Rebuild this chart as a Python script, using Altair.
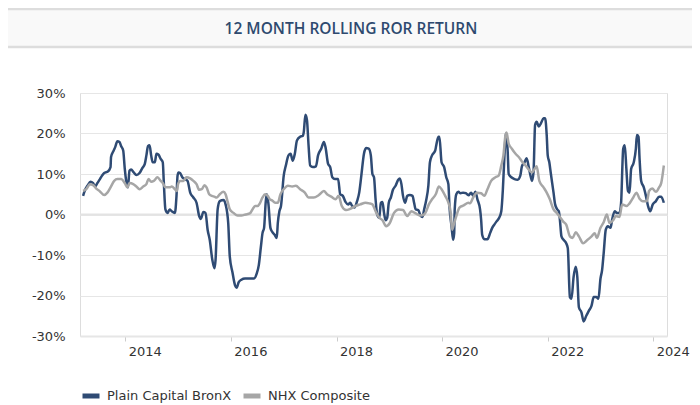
import altair as alt
import pandas as pd

TITLE = "12 MONTH ROLLING ROR RETURN"
SERIES = ["Plain Capital BronX", "NHX Composite"]
COLORS = ["#2f4b74", "#a6a6a6"]

# decimal-year positions and values (%)
bronx_years = [
    2013.20, 2013.23, 2013.29, 2013.34, 2013.39, 2013.43, 2013.47, 2013.52, 2013.56, 2013.60,
    2013.67, 2013.72, 2013.73, 2013.78, 2013.81, 2013.85, 2013.89, 2013.92, 2013.96, 2013.99,
    2014.03, 2014.05, 2014.08, 2014.11, 2014.16, 2014.21, 2014.27, 2014.32, 2014.37, 2014.40,
    2014.43, 2014.46, 2014.49, 2014.52, 2014.56, 2014.59, 2014.63, 2014.67, 2014.71, 2014.73,
    2014.76, 2014.80, 2014.84, 2014.88, 2014.94, 2014.97, 2014.99, 2015.01, 2015.04, 2015.08,
    2015.13, 2015.18, 2015.23, 2015.29, 2015.35, 2015.40, 2015.43, 2015.48, 2015.52, 2015.56,
    2015.60, 2015.65, 2015.69, 2015.71, 2015.75, 2015.79, 2015.86, 2015.90, 2015.95, 2015.98,
    2016.03, 2016.08, 2016.11, 2016.15, 2016.20, 2016.27, 2016.36, 2016.44, 2016.49, 2016.53,
    2016.57, 2016.60, 2016.63, 2016.66, 2016.68, 2016.71, 2016.75, 2016.78, 2016.83, 2016.87,
    2016.89, 2016.92, 2016.95, 2017.00, 2017.04, 2017.09, 2017.13, 2017.17, 2017.21, 2017.25,
    2017.31, 2017.36, 2017.38, 2017.41, 2017.44, 2017.47, 2017.50, 2017.55, 2017.61, 2017.65,
    2017.71, 2017.76, 2017.79, 2017.84, 2017.88, 2017.92, 2017.97, 2018.03, 2018.07, 2018.12,
    2018.17, 2018.22, 2018.26, 2018.29, 2018.34, 2018.39, 2018.43, 2018.47, 2018.52, 2018.56,
    2018.61, 2018.65, 2018.68, 2018.71, 2018.74, 2018.77, 2018.81, 2018.84, 2018.87, 2018.90,
    2018.93, 2018.96, 2018.99, 2019.03, 2019.07, 2019.12, 2019.17, 2019.20, 2019.23, 2019.26,
    2019.30, 2019.34, 2019.39, 2019.44, 2019.47, 2019.50, 2019.55, 2019.59, 2019.63, 2019.66,
    2019.70, 2019.74, 2019.77, 2019.81, 2019.87, 2019.89, 2019.93, 2019.95, 2019.99, 2020.04,
    2020.08, 2020.12, 2020.14, 2020.18, 2020.21, 2020.23, 2020.24, 2020.27, 2020.31, 2020.35,
    2020.40, 2020.45, 2020.50, 2020.55, 2020.59, 2020.63, 2020.67, 2020.72, 2020.74, 2020.76,
    2020.80, 2020.86, 2020.91, 2020.95, 2020.99, 2021.03, 2021.08, 2021.12, 2021.15, 2021.18,
    2021.21, 2021.24, 2021.26, 2021.31, 2021.37, 2021.43, 2021.48, 2021.51, 2021.56, 2021.60,
    2021.64, 2021.68, 2021.70, 2021.73, 2021.76, 2021.79, 2021.83, 2021.87, 2021.92, 2021.95,
    2021.98, 2022.00, 2022.03, 2022.06, 2022.11, 2022.14, 2022.18, 2022.21, 2022.23, 2022.26,
    2022.30, 2022.35, 2022.38, 2022.42, 2022.45, 2022.49, 2022.53, 2022.56, 2022.59, 2022.64,
    2022.68, 2022.73, 2022.78, 2022.83, 2022.87, 2022.92, 2022.96, 2023.00, 2023.03, 2023.06,
    2023.10, 2023.14, 2023.19, 2023.22, 2023.27, 2023.31, 2023.36, 2023.39, 2023.43, 2023.46,
    2023.49, 2023.52, 2023.55, 2023.58, 2023.63, 2023.67, 2023.69, 2023.72, 2023.74, 2023.77,
    2023.82, 2023.86, 2023.90, 2023.94, 2023.99, 2024.05, 2024.11, 2024.15, 2024.20,
]
bronx_values = [
    4.6, 5.8, 7.25, 8.1, 7.75, 6.9, 7.75, 8.75, 9.6, 10.25,
    10.6, 11.7, 14.2, 15.8, 16.7, 18.1, 17.9, 16.9, 15.8, 11.25,
    7.25, 6.7, 10.8, 11.1, 10.4, 9.75, 10.25, 11.4, 12.5, 14.6,
    16.9, 17.1, 14.6, 12.9, 12.9, 15.0, 14.75, 13.75, 12.9, 7.9,
    1.25, 0.4, 1.25, 0.8, 0.4, 4.6, 9.6, 10.4, 10.2, 9.2,
    8.75, 8.3, 5.4, 4.2, 2.9, -0.4, -1.1, 0.6, 0.4, -3.75,
    -6.25, -11.25, -13.3, -11.25, 1.25, 3.3, 3.6, 2.5, -2.1, -10.4,
    -14.2, -17.5, -18.1, -16.7, -16.1, -15.8, -15.8, -15.8, -14.6, -12.5,
    -7.9, -4.6, -3.3, 2.9, 5.0, 2.9, -3.3, -4.2, -5.0, -5.8,
    -2.1, 0.8, 2.1, 9.6, 12.1, 14.6, 15.0, 13.3, 15.0, 18.3,
    19.2, 19.4, 20.4, 24.6, 23.3, 17.1, 12.1, 11.7, 11.9, 14.6,
    16.25, 17.9, 16.7, 12.5, 11.7, 9.2, 8.75, 8.75, 5.0, 4.6,
    3.1, 2.5, 2.9, 2.25, 1.7, 3.3, 5.4, 9.6, 15.0, 16.4,
    16.25, 14.6, 10.0, 9.2, 3.75, 0.0, -0.8, 2.9, 3.1, 0.4,
    -1.4, -0.8, 2.9, 4.2, 6.1, 7.1, 8.6, 8.9, 7.5, 4.6,
    2.9, 4.6, 4.8, 4.6, 2.9, 1.25, 1.1, -0.25, -0.6, 1.25,
    3.6, 7.1, 12.9, 14.6, 15.8, 17.1, 19.2, 19.2, 12.9, 11.7,
    9.2, 7.5, 2.1, -2.9, -6.25, -4.6, 1.25, 5.0, 5.6, 5.25,
    5.4, 5.25, 4.75, 5.4, 4.6, 5.6, 3.75, 1.25, -1.25, -5.0,
    -6.1, -6.1, -4.6, -3.3, -2.5, -1.7, -0.8, 0.8, 6.25, 14.6,
    20.0, 15.8, 10.0, 9.2, 8.75, 8.6, 9.6, 11.9, 12.9, 13.9,
    11.7, 9.2, 8.3, 10.4, 22.1, 22.9, 21.7, 22.5, 23.75, 23.75,
    19.6, 14.6, 12.9, 10.0, 5.4, 2.5, 1.25, 0.8, -1.25, -5.4,
    -6.25, -7.1, -8.3, -20.4, -20.8, -15.4, -12.9, -15.4, -22.9, -24.2,
    -26.4, -25.0, -23.75, -22.5, -20.4, -20.4, -20.8, -15.8, -13.75, -9.6,
    -3.75, -2.9, -3.3, -1.25, 0.8, 0.4, 0.4, 2.9, 16.25, 17.1,
    11.25, 5.8, 5.4, 11.25, 12.9, 16.25, 19.6, 19.2, 13.75, 8.3,
    6.7, 4.6, 2.1, 0.8, 2.5, 3.3, 4.4, 4.4, 2.9,
]

nhx_years = [
    2013.20, 2013.26, 2013.33, 2013.39, 2013.45, 2013.52, 2013.60, 2013.66, 2013.72, 2013.79,
    2013.85, 2013.92, 2013.99, 2014.04, 2014.08, 2014.15, 2014.21, 2014.27, 2014.34, 2014.40,
    2014.44, 2014.49, 2014.54, 2014.61, 2014.67, 2014.71, 2014.76, 2014.84, 2014.88, 2014.94,
    2014.98, 2015.00, 2015.04, 2015.10, 2015.16, 2015.23, 2015.29, 2015.35, 2015.40, 2015.45,
    2015.50, 2015.54, 2015.59, 2015.64, 2015.69, 2015.73, 2015.79, 2015.86, 2015.90, 2015.94,
    2015.98, 2016.05, 2016.13, 2016.20, 2016.28, 2016.36, 2016.41, 2016.46, 2016.51, 2016.55,
    2016.60, 2016.65, 2016.70, 2016.74, 2016.78, 2016.84, 2016.89, 2016.94, 2017.00, 2017.08,
    2017.16, 2017.23, 2017.31, 2017.40, 2017.47, 2017.57, 2017.66, 2017.76, 2017.82, 2017.90,
    2017.98, 2018.04, 2018.10, 2018.18, 2018.26, 2018.36, 2018.45, 2018.55, 2018.62, 2018.68,
    2018.74, 2018.81, 2018.87, 2018.94, 2019.01, 2019.09, 2019.18, 2019.26, 2019.34, 2019.42,
    2019.50, 2019.58, 2019.66, 2019.70, 2019.75, 2019.81, 2019.88, 2019.94, 2019.99, 2020.06,
    2020.12, 2020.16, 2020.19, 2020.23, 2020.27, 2020.33, 2020.41, 2020.50, 2020.53, 2020.59,
    2020.66, 2020.74, 2020.80, 2020.86, 2020.93, 2021.01, 2021.07, 2021.12, 2021.16, 2021.20,
    2021.22, 2021.26, 2021.32, 2021.39, 2021.45, 2021.51, 2021.58, 2021.64, 2021.70, 2021.75,
    2021.79, 2021.84, 2021.92, 2021.98, 2022.04, 2022.11, 2022.17, 2022.23, 2022.29, 2022.35,
    2022.42, 2022.47, 2022.53, 2022.59, 2022.67, 2022.74, 2022.83, 2022.89, 2022.93, 2023.00,
    2023.06, 2023.12, 2023.17, 2023.24, 2023.29, 2023.36, 2023.41, 2023.49, 2023.55, 2023.62,
    2023.68, 2023.74, 2023.80, 2023.88, 2023.92, 2023.98, 2024.05, 2024.11, 2024.15, 2024.20,
]
nhx_values = [
    5.8, 6.25, 7.5, 7.25, 6.4, 5.7, 4.8, 5.4, 6.7, 8.3,
    8.75, 8.75, 7.75, 6.7, 7.75, 7.5, 6.9, 6.25, 6.9, 7.5,
    8.75, 8.1, 8.3, 9.2, 8.3, 7.75, 6.7, 6.7, 6.9, 6.25,
    5.8, 7.5, 8.3, 8.3, 9.2, 8.9, 8.3, 7.5, 6.1, 6.25,
    7.25, 6.7, 5.0, 4.6, 4.4, 4.2, 5.0, 5.6, 5.0, 3.1,
    1.25, 0.4, -0.25, -0.25, 0.0, 0.25, 1.25, 2.1, 2.1, 2.75,
    4.2, 5.0, 4.6, 3.75, 3.5, 2.9, 2.9, 5.0, 6.25, 7.1,
    6.9, 7.1, 6.25, 5.4, 4.2, 4.2, 4.75, 5.8, 5.0, 4.4,
    3.75, 4.6, 2.1, 1.1, 1.4, 2.1, 2.5, 2.9, 2.75, 2.5,
    0.8, -0.8, -1.4, -2.9, -2.1, 0.4, 1.25, 1.1, -0.4, 0.8,
    0.25, -0.25, 0.0, 0.8, 2.5, 3.75, 5.0, 6.9, 6.25, 4.6,
    2.9, 0.8, -3.75, -2.1, -0.4, 1.7, 2.25, 2.9, 2.75, 4.2,
    5.4, 5.25, 4.6, 6.25, 8.3, 9.2, 9.6, 12.1, 14.6, 19.6,
    20.25, 17.5, 16.25, 15.0, 14.2, 13.1, 12.1, 11.1, 10.4, 11.25,
    11.9, 8.3, 6.7, 5.4, 3.75, 1.25, 0.4, -0.6, -1.7, -2.5,
    -5.4, -5.8, -4.4, -5.4, -7.1, -6.4, -5.4, -4.6, -5.8, -3.3,
    -1.9, 0.0, -2.1, -1.4, -0.4, -0.6, 2.5, 2.1, 2.75, 4.2,
    5.4, 3.9, 3.3, 3.3, 5.8, 6.4, 5.6, 6.7, 7.75, 12.1,
]

Y_TICKS = [-30, -20, -10, 0, 10, 20, 30]
X_TICK_YEARS = [2014, 2016, 2018, 2020, 2022, 2024]


def to_ts(y):
    yr = int(y)
    return pd.Timestamp(yr, 1, 1) + pd.Timedelta(days=(y - yr) * 365.25)


def to_dt(y):
    t = to_ts(y)
    return alt.DateTime(year=t.year, month=t.month, date=t.day, hours=t.hour)


df = pd.concat([
    pd.DataFrame({"date": [to_ts(y).strftime("%Y-%m-%dT%H:%M:%S") for y in bronx_years],
                  "value": bronx_values, "series": SERIES[0]}),
    pd.DataFrame({"date": [to_ts(y).strftime("%Y-%m-%dT%H:%M:%S") for y in nhx_years],
                  "value": nhx_values, "series": SERIES[1]}),
], ignore_index=True)

W, H = 587, 243
PL, PT = 72, 85
TOTAL_W, TOTAL_H = 684, 397
FONT = "Verdana, DejaVu Sans"

x_enc = alt.X(
    "date:T",
    scale=alt.Scale(domain=[to_dt(2013.142), to_dt(2024.26)]),
    axis=alt.Axis(
        title=None, format="%Y", values=[alt.DateTime(year=y, month=1, date=1) for y in X_TICK_YEARS],
        grid=False, domain=True, domainColor="#e6e6e6", domainWidth=2,
        ticks=True, tickColor="#cccccc", tickSize=5, labelAlign="left", labelOffset=3,
        labelPadding=4, labelFontSize=13, labelColor="#333333", labelFont=FONT,
    ),
)
y_enc = alt.Y(
    "value:Q",
    scale=alt.Scale(domain=[-30, 30], nice=False),
    axis=alt.Axis(
        title=None, values=Y_TICKS, labelExpr="datum.value + '%'", grid=True, gridColor="#e6e6e6",
        gridWidth=1, domain=False, ticks=False, labelPadding=15, labelFontSize=13,
        labelColor="#333333", labelFont=FONT,
    ),
)
color_enc = alt.Color(
    "series:N",
    scale=alt.Scale(domain=SERIES, range=COLORS),
    legend=alt.Legend(
        title=None, orient="none", legendX=0, legendY=292, direction="horizontal",
        symbolType="M-1,0L1,0", symbolSize=289, symbolStrokeWidth=5,
        symbolOpacity=1, labelFontSize=13, labelColor="#333333", labelFont=FONT,
        labelOffset=5, columnPadding=1,
    ),
)

zero = alt.Chart(pd.DataFrame({"v": [0]})).mark_rule(color="#e3e3e3", strokeWidth=2).encode(
    y=alt.Y("v:Q", scale=alt.Scale(domain=[-30, 30]))
)

line_b = alt.Chart(df).transform_filter(alt.datum.series == SERIES[0]).mark_line(
    strokeWidth=2.5, interpolate="monotone"
).encode(x=x_enc, y=y_enc, color=color_enc)
line_g = alt.Chart(df).transform_filter(alt.datum.series == SERIES[1]).mark_line(
    strokeWidth=2.5, interpolate="monotone"
).encode(x=x_enc, y=y_enc, color=color_enc)

tdf = pd.DataFrame({"t": [TITLE]})
box = alt.Chart(tdf).mark_rect(color="#f9f9f9").encode(
    x=alt.value(-PL), x2=alt.value(TOTAL_W - PL), y=alt.value(-84), y2=alt.value(-46)
)
top_rule = alt.Chart(tdf).mark_rule(color="#dddddd", strokeWidth=2.5).encode(
    x=alt.value(-PL), x2=alt.value(TOTAL_W - PL), y=alt.value(-84)
)
bot_rule = alt.Chart(tdf).mark_rule(color="#dddddd", strokeWidth=2.5).encode(
    x=alt.value(-PL), x2=alt.value(TOTAL_W - PL), y=alt.value(-46)
)
title_txt = alt.Chart(tdf).mark_text(
    font="Open Sans", fontSize=15.5, fontWeight=600, color="#2e4a6f", align="center", baseline="middle"
).encode(text="t:N", x=alt.value(351 - 8 - PL), y=alt.value(29 - 8 - PT))

chart = alt.layer(box, top_rule, bot_rule, title_txt, zero, line_b, line_g).properties(
    width=W, height=H,
    autosize=alt.AutoSizeParams(type="none"),
    padding={"left": PL, "top": PT, "right": TOTAL_W - PL - W, "bottom": TOTAL_H - PT - H},
).configure_view(stroke=None).configure(background="white")

chart.save("out.html", embed_options={"renderer": "svg", "actions": False})
